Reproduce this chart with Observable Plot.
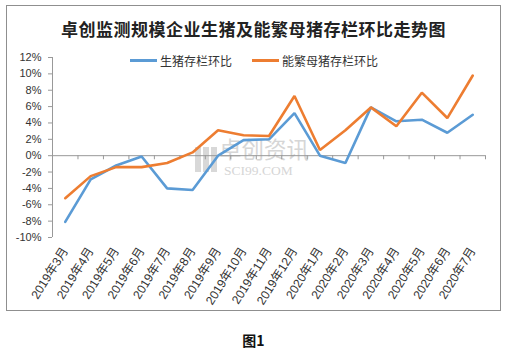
<!DOCTYPE html>
<html>
<head>
<meta charset="utf-8">
<script src="https://cdn.jsdelivr.net/npm/d3@7"></script>
<script src="https://cdn.jsdelivr.net/npm/@observablehq/plot@0.6"></script>
<style>
  html, body { margin: 0; padding: 0; background: #fff; }
  #wrap { position: relative; width: 507px; height: 354px; overflow: hidden; font-family: "Noto Sans CJK SC", "Liberation Sans", sans-serif; }
  #border { position: absolute; left: 6px; top: 5px; width: 493px; height: 304px; border: 1.5px solid #8f8f8f; }
  #title { position: absolute; left: 0; width: 507px; top: 16px; text-align: center; font-size: 17px; font-weight: bold; color: #222; letter-spacing: 0.5px; }
  #chart { position: absolute; left: 0; top: 40px; }
  .leg { position: absolute; top: 52px; font-size: 12px; color: #333; display: flex; align-items: center; }
  .leg span.sw { display: inline-block; width: 27px; height: 2.5px; margin-right: 3px; }
  #wm1 { position: absolute; left: 219px; top: 137px; font-size: 22.5px; line-height: 22px; color: #d6d6d6; font-family: "Noto Sans CJK SC"; }
  #wm2 { position: absolute; left: 224px; top: 165px; font-size: 13.5px; line-height: 11px; color: #d6d6d6; font-family: "Liberation Serif", serif; }
  #wmlogo { position: absolute; left: 195px; top: 147px; width: 22px; height: 25px; background: repeating-linear-gradient(90deg, #d8d8d8 0 6px, #fff 6px 8px); }
  #cap { position: absolute; left: 0; width: 507px; top: 330px; text-align: center; font-size: 14px; font-weight: bold; color: #111; }
</style>
</head>
<body>
<div id="wrap">
  <div id="wmlogo"></div>
  <div id="wm1">卓创资讯</div>
  <div id="wm2">SCI99.COM</div>
  <div id="border"></div>
  <div id="title">卓创监测规模企业生猪及能繁母猪存栏环比走势图</div>
  <div id="chart"></div>
  <div class="leg" style="left:130px"><span class="sw" style="background:#5B9BD5"></span>生猪存栏环比</div>
  <div class="leg" style="left:252px"><span class="sw" style="background:#ED7D31"></span>能繁母猪存栏环比</div>
  <div id="cap">图1</div>
</div>
<script>
const months = ["2019年3月","2019年4月","2019年5月","2019年6月","2019年7月","2019年8月","2019年9月","2019年10月","2019年11月","2019年12月","2020年1月","2020年2月","2020年3月","2020年4月","2020年5月","2020年6月","2020年7月"];
const hogs = [-8.1, -2.9, -1.2, -0.1, -4.0, -4.2, 0.0, 1.9, 2.0, 5.2, 0.0, -0.9, 5.9, 4.2, 4.4, 2.8, 5.0];
const sows = [-5.2, -2.5, -1.4, -1.4, -0.9, 0.4, 3.1, 2.5, 2.4, 7.3, 0.7, 3.1, 5.9, 3.6, 7.7, 4.6, 9.8];
const yTicks = d3.range(-10, 13, 2);

const idx = d3.range(months.length);
const bounds = d3.range(months.length + 1).map(i => i - 0.5);
const hogData = idx.map(i => ({i, v: hogs[i]}));
const sowData = idx.map(i => ({i, v: sows[i]}));

const chart = Plot.plot({
  width: 507,
  height: 270,
  marginLeft: 52,
  marginRight: 22,
  marginTop: 17,
  marginBottom: 73,
  style: { background: "transparent", fontFamily: "'Liberation Sans', 'Noto Sans CJK SC', sans-serif", fontSize: "11px", color: "#333" },
  x: { type: "linear", domain: [-0.5, months.length - 0.5] },
  y: { domain: [-10, 12] },
  marks: [
    Plot.axisY({ ticks: yTicks, tickSize: 4, tickPadding: 7, tickFormat: d => d + "%", stroke: "#999", fill: "#333", fontSize: 11, label: null }),
    Plot.axisX({ ticks: idx, tickSize: 0, tickPadding: 11, tickFormat: i => months[i], tickRotate: -58, fontSize: 12.2, fill: "#333", label: null, fontFamily: "'Liberation Sans', 'Noto Sans CJK SC', sans-serif" }),
    Plot.ruleX([-0.5], { stroke: "#999", strokeWidth: 1 }),
    Plot.ruleY([0], { stroke: "#999", strokeWidth: 1 }),
    Plot.ruleX(bounds, { x: d => d, y1: 0, y2: -0.5, stroke: "#999", strokeWidth: 1 }),
    Plot.line(hogData, { x: "i", y: "v", stroke: "#5B9BD5", strokeWidth: 2.6, strokeLinejoin: "miter" }),
    Plot.line(sowData, { x: "i", y: "v", stroke: "#ED7D31", strokeWidth: 2.6, strokeLinejoin: "miter" })
  ]
});
document.getElementById("chart").appendChild(chart);
</script>
</body>
</html>
